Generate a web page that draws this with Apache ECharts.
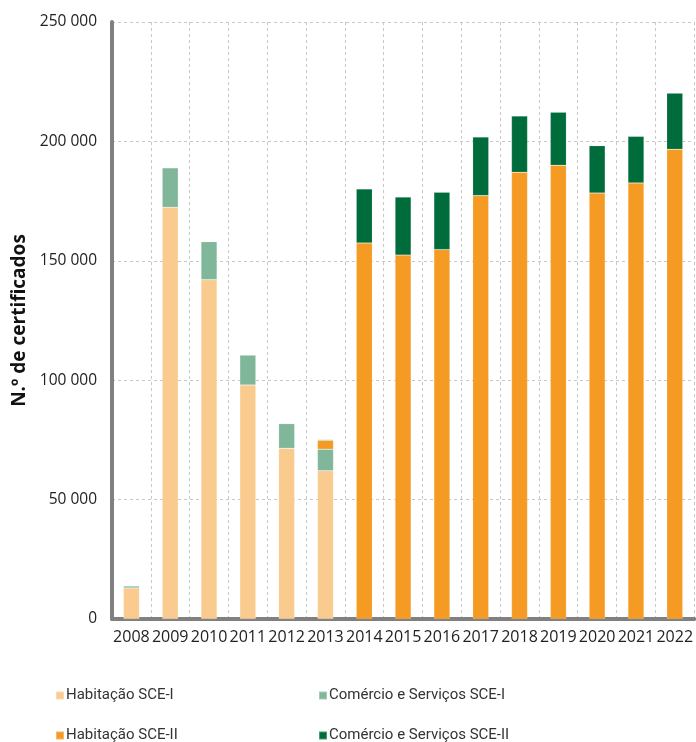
<!DOCTYPE html>
<html>
<head>
<meta charset="utf-8">
<script src="https://cdn.jsdelivr.net/npm/echarts@6/dist/echarts.min.js"></script>
<style>
  html, body { margin: 0; padding: 0; background: #fff; }
  #chart { width: 696px; height: 742px; }
</style>
</head>
<body>
<div id="chart"></div>
<script>
var years = ['2008','2009','2010','2011','2012','2013','2014','2015','2016','2017','2018','2019','2020','2021','2022'];
var habSCE1 = [13000, 172400, 142100, 98000, 71500, 62100, null, null, null, null, null, null, null, null, null];
var comSCE1 = [800, 16500, 15900, 12500, 10300, 9000, null, null, null, null, null, null, null, null, null];
var habSCE2 = [null, null, null, null, null, 3700, 157500, 152400, 154700, 177300, 187100, 190000, 178400, 182600, 196700];
var comSCE2 = [null, null, null, null, null, 300, 22600, 24300, 24000, 24500, 23500, 22200, 19800, 19500, 23500];
var seriesNames = ['Habitação SCE-I', 'Comércio e Serviços SCE-I', 'Habitação SCE-II', 'Comércio e Serviços SCE-II'];
var seriesColors = ['#FACB8E', '#80B79B', '#F59B23', '#006C3B'];

var chart = echarts.init(document.getElementById('chart'));

function fmt(v){
	return String(v).replace(/\B(?=(\d{3})+(?!\d))/g, ' ');
}

function makeSeries(i, data){
	return {
		name: seriesNames[i],
		type: 'bar',
		stack: 'total',
		barWidth: 16,
		itemStyle: {
			color: seriesColors[i],
			borderColor: 'rgba(255,255,255,0.3)',
			borderWidth: 0.5
		},
		data: data
	};
}

function legendAt(i, left, top){
	return {
		left: left,
		top: top,
		icon: 'rect',
		itemWidth: 8,
		itemHeight: 8,
		itemGap: 2,
		textStyle: { fontSize: 15, color: '#333', fontFamily: 'Roboto', padding: [0, 0, 0, -3] },
		data: [seriesNames[i]]
	};
}

var option = {
	animation: false,
	textStyle: { fontFamily: 'Open Sans' },
	grid: { left: 112, right: 0, top: 22, bottom: 123 },
	legend: [
		legendAt(0, 50, 683),
		legendAt(1, 313, 683),
		legendAt(2, 50, 723),
		legendAt(3, 313, 723)
	],
	xAxis: {
		type: 'category',
		data: years,
		axisLine: { lineStyle: { color: '#808080', width: 4 } },
		axisTick: { show: false },
		axisLabel: { color: '#222', fontSize: 16, margin: 10, interval: 0 },
		splitLine: { show: true, lineStyle: { color: '#c8c8c8', type: [3, 3] } }
	},
	yAxis: {
		type: 'value',
		min: 0,
		max: 250000,
		interval: 50000,
		name: 'N.º de certificados',
		nameLocation: 'middle',
		nameGap: 75,
		nameTextStyle: { fontSize: 19, fontWeight: 'bold', color: '#111' },
		axisLine: { show: true, lineStyle: { color: '#808080', width: 4, cap: 'round' } },
		axisTick: { show: false },
		axisLabel: { color: '#222', fontSize: 15.5, margin: 15, formatter: fmt },
		splitLine: { lineStyle: { color: '#c8c8c8', type: [3, 3] } }
	},
	series: [
		makeSeries(0, habSCE1),
		makeSeries(1, comSCE1),
		makeSeries(2, habSCE2),
		makeSeries(3, comSCE2)
	]
};

chart.setOption(option);
</script>
</body>
</html>
